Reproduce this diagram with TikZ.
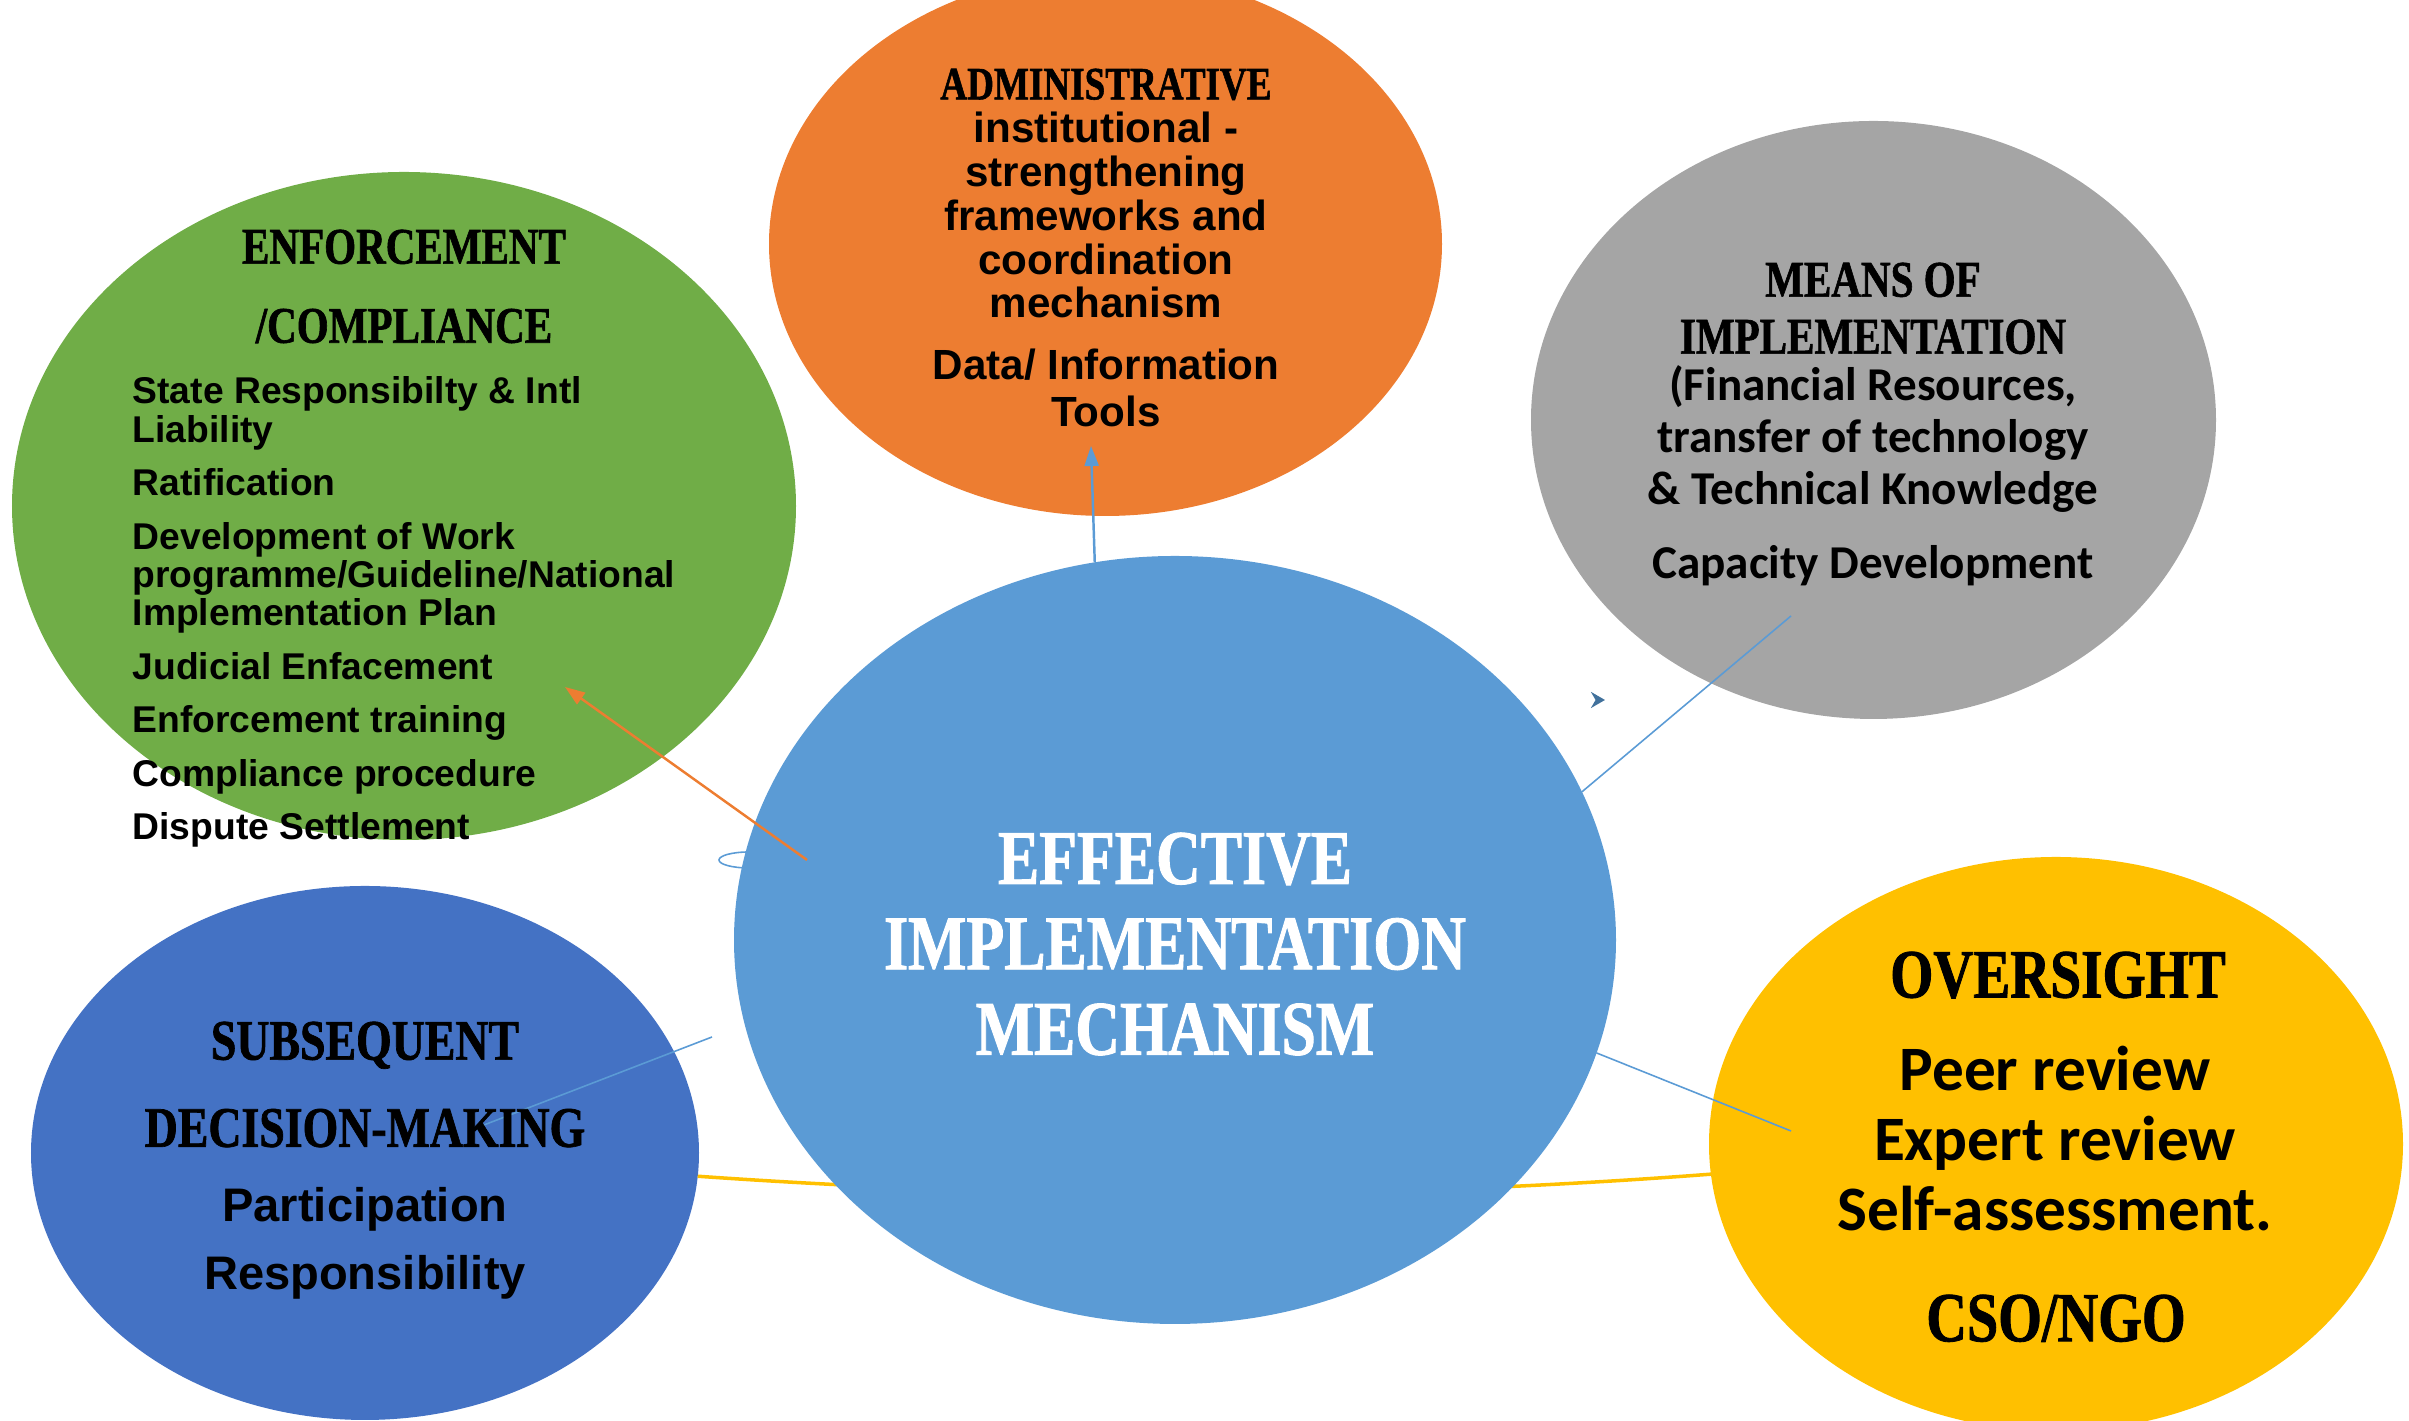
\documentclass[tikz,border=0pt]{standalone}
\usepackage{fontspec}
\setmainfont{Liberation Sans}
\newfontfamily\headfont[FakeStretch=0.8,FakeBold=1.2]{Liberation Serif}
\newfontfamily\calfont{Carlito}
\usetikzlibrary{shapes.geometric,arrows.meta}

\definecolor{eimblue}{HTML}{5B9BD5}
\definecolor{enfgreen}{HTML}{70AD47}
\definecolor{admorange}{HTML}{ED7D31}
\definecolor{moigray}{HTML}{A5A5A5}
\definecolor{subblue}{HTML}{4472C4}
\definecolor{ovsyellow}{HTML}{FFC000}
\definecolor{stubblue}{HTML}{41719C}

\tikzset{
	blob/.style={ellipse,inner sep=0pt,outer sep=0pt,draw=none},
	hd/.style 2 args={inner sep=0pt,align=center,font=\headfont\bfseries\fontsize{#1}{#2}\selectfont},
	txt/.style 2 args={inner sep=0pt,font=\bfseries\fontsize{#1}{#2}\selectfont},
	cal/.style 2 args={inner sep=0pt,align=center,font=\calfont\bfseries\fontsize{#1}{#2}\selectfont},
	thinline/.style={draw=eimblue,line width=0.45pt},
	tip/.style={-{Triangle[length=0.2cm,width=0.14cm]}}
}

\begin{document}
\begin{tikzpicture}
	\useasboundingbox (0,0) rectangle (24.09,14.21);
	\clip (0,0) rectangle (24.09,14.21);

	% Loose ends
	\coordinate (admtip) at (10.91,9.75);
	\coordinate (enfstart) at (8.07,5.61);
	\coordinate (enftip) at (5.65,7.34);
	\coordinate (moiend) at (17.91,8.05);
	\coordinate (ovsend) at (17.91,2.90);
	\coordinate (substart) at (7.12,3.84);
	\coordinate (subend) at (4.71,2.91);
	\coordinate (stub) at (15.97,7.21);

	% Outer ellipses
	\node[blob,fill=enfgreen,minimum width=7.84cm,minimum height=6.68cm] (enf) at (4.04,9.15) {};
	\node[blob,fill=admorange,minimum width=6.73cm,minimum height=5.44cm] (adm) at (11.055,11.77) {};
	\node[blob,fill=moigray,minimum width=6.85cm,minimum height=5.98cm] (moi) at (18.735,10.01) {};
	\node[blob,fill=subblue,minimum width=6.68cm,minimum height=5.34cm] (sub) at (3.65,2.68) {};
	\node[blob,fill=ovsyellow,minimum width=6.94cm,minimum height=5.74cm] (ovs) at (20.56,2.77) {};

	% Behind the centre
	\draw[ovsyellow,line width=1pt] (sub.-4.1) .. controls (10.37,2.21) and (13.73,2.21) .. (ovs.185.6);
	\draw[thinline] (7.49,5.61) ellipse (0.30 and 0.08);

	% Centre ellipse
	\node[blob,fill=eimblue,minimum width=8.82cm,minimum height=7.68cm] (eim) at (11.75,4.81) {};

	% Connectors
	\draw[eimblue,line width=0.7pt,tip] (eim.102.6) -- (admtip);
	\draw[admorange,line width=0.7pt,tip] (enfstart) -- (enftip);
	\draw[thinline] (eim.20.1) -- (moiend);
	\draw[thinline] (eim.-15.6) -- (ovsend);
	\draw[thinline] (substart) -- (subend);
	\draw[stubblue,line width=0.8pt,-{Stealth[length=0.14cm,width=0.16cm]}] (stub) -- ++(0.08,0);

	% Texts
	\node[hd={14.6}{22.5},anchor=north] (enfhead) at (4.04,11.92) {ENFORCEMENT\\/COMPLIANCE};
	\node[txt={10.6}{10.95},align=left,anchor=north west] (enftext) at (1.32,10.45)
		{State Responsibilty \& Intl\\Liability\\[4.25pt]Ratification\\[4.25pt]Development of Work\\programme/Guideline/National\\Implementation Plan\\[4.25pt]Judicial Enfacement\\[4.25pt]Enforcement training\\[4.25pt]Compliance procedure\\[4.25pt]Dispute Settlement};

	\node[hd={13.2}{15},anchor=north] (admhead) at (11.06,13.53) {ADMINISTRATIVE};
	\node[txt={12}{12.5},align=center,anchor=north] (admtext) at (11.06,13.10)
		{institutional -\\strengthening\\frameworks and\\coordination\\mechanism\\[5.1pt]Data/ Information\\[0.9pt]Tools};

	\node[hd={14.6}{16.2},anchor=north] (moihead) at (18.73,11.59) {MEANS OF\\IMPLEMENTATION};
	\node[cal={13.4}{14.8},anchor=north] (moitext) at (18.73,10.56)
		{(Financial Resources,\\transfer of technology\\\& Technical Knowledge\\[6.1pt]Capacity Development};

	\node[hd={16.3}{24.8},anchor=north] (subhead) at (3.65,4.00) {SUBSEQUENT\\DECISION-MAKING};
	\node[txt={13.4}{19.3},align=center,anchor=north] (subtext) at (3.65,2.34) {Participation\\Responsibility};

	\node[hd={19.7}{22},anchor=north] (ovshead) at (20.58,4.70) {OVERSIGHT};
	\node[cal={18}{20},anchor=north] (ovstext) at (20.55,3.76) {Peer review\\Expert review\\Self-assessment.};
	\node[hd={20}{22},anchor=north] (ovsfoot) at (20.56,1.27) {CSO/NGO};

	\node[hd={22}{24.3},anchor=north,text=white] (eimhead) at (11.75,5.89) {EFFECTIVE\\IMPLEMENTATION\\MECHANISM};
\end{tikzpicture}
\end{document}
